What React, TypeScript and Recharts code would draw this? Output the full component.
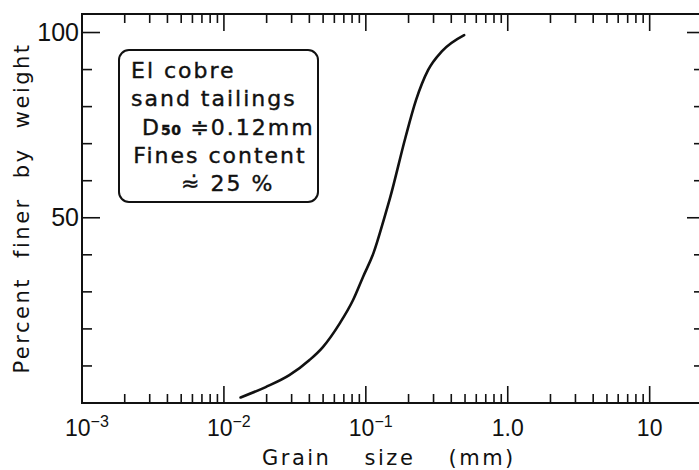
import { LineChart, Line, XAxis, YAxis, ReferenceArea } from "recharts";

// grain size distribution
const grainSize = [0.0131, 0.0197, 0.0289, 0.0401, 0.0498, 0.0655, 0.0813, 0.0957, 0.113, 0.135, 0.149, 0.19, 0.226, 0.275, 0.343, 0.493];
const percentFiner = [1.5, 4.3, 7.5, 11.6, 15.1, 21.5, 27.8, 34.1, 40.4, 50, 55.7, 71.6, 81.8, 89.9, 94.9, 99.3];

const majorX = [0.001, 0.01, 0.1, 1, 10];
const majorXBase = ["10", "10", "10", "1.0", "10"];
const majorXSup = ["\u22123", "\u22122", "\u22121", "", ""];
const minorMult = [2, 3, 4, 5, 6, 7, 8, 9];
const xTicks = [...majorX, ...majorX.slice(0, 4).flatMap((d) => minorMult.map((m) => +(m * d).toPrecision(2)))];

const yTicks = [10, 20, 30, 40, 50, 60, 70, 80, 90, 100];
const yLabelled = [50, 100];

const X_DOMAIN = [0.001, 23];
const Y_DOMAIN = [0, 105];

const data = grainSize.map((g, i) => ({ g, p: percentFiner[i] }));

const W = 710;
const H = 470;
const MARGIN = { top: 14, right: 9, left: 0, bottom: 0 };
const Y_W = 82;
const X_H = 67;
const PLOT_TOP = MARGIN.top;
const PLOT_BOTTOM = H - X_H;
const PLOT_LEFT = Y_W;
const PLOT_RIGHT = W - MARGIN.right;

const INK = "#111";
const NUM_FONT = "'Liberation Sans', Arial, sans-serif";
const TXT_FONT = "'DejaVu Sans', sans-serif";

function XTick(props: any) {
  const { x, payload } = props;
  const idx = majorX.indexOf(payload.value);
  const major = idx >= 0;
  const len = major ? 17 : 9;
  return (
    <g>
      <line x1={x} x2={x} y1={PLOT_BOTTOM} y2={PLOT_BOTTOM - len} stroke={INK} strokeWidth={1.6} />
      <line x1={x} x2={x} y1={PLOT_TOP} y2={PLOT_TOP + len} stroke={INK} strokeWidth={1.6} />
      {major &&
        (majorXSup[idx] ? (
          <text x={x - 17} y={436} fontSize={23} fontFamily={NUM_FONT} fill={INK}>
            <tspan>{majorXBase[idx]}</tspan>
            <tspan dy={-9} fontSize={16}>
              {majorXSup[idx]}
            </tspan>
          </text>
        ) : (
          <text x={x} y={436} textAnchor="middle" fontSize={23} fontFamily={NUM_FONT} fill={INK}>
            {majorXBase[idx]}
          </text>
        ))}
    </g>
  );
}

function YTick(props: any) {
  const { y, payload } = props;
  const major = yLabelled.includes(payload.value);
  return (
    <g>
      <line x1={PLOT_LEFT} x2={PLOT_LEFT + (major ? 18 : 10)} y1={y} y2={y} stroke={INK} strokeWidth={1.6} />
      <line x1={PLOT_RIGHT - (major ? 14 : 7)} x2={PLOT_RIGHT} y1={y} y2={y} stroke={INK} strokeWidth={1.6} />
      {major && (
        <text x={PLOT_LEFT - 3} y={y + 8} textAnchor="end" fontSize={25} fontFamily={NUM_FONT} fill={INK}>
          {payload.value}
        </text>
      )}
    </g>
  );
}

export default function App() {
  return (
    <div style={{ position: "absolute", left: 0, top: 0, width: 699, height: 470, overflow: "hidden", background: "#fff" }}>
      <LineChart width={W} height={H} data={data} margin={MARGIN}>
        <XAxis
          dataKey="g"
          type="number"
          scale="log"
          domain={X_DOMAIN}
          allowDataOverflow
          ticks={xTicks}
          interval={0}
          height={X_H}
          axisLine={false}
          tickLine={false}
          tick={<XTick />}
        />
        <YAxis
          type="number"
          domain={Y_DOMAIN}
          allowDataOverflow
          ticks={yTicks}
          interval={0}
          width={Y_W}
          axisLine={false}
          tickLine={false}
          tick={<YTick />}
        />
        <ReferenceArea x1={X_DOMAIN[0]} x2={X_DOMAIN[1]} y1={Y_DOMAIN[0]} y2={Y_DOMAIN[1]} fill="none" stroke={INK} strokeWidth={2} />
        <Line dataKey="p" type="monotone" stroke={INK} strokeWidth={2.6} strokeLinecap="round" dot={false} isAnimationActive={false} />
      </LineChart>
      <svg width={699} height={470} style={{ position: "absolute", left: 0, top: 0, pointerEvents: "none" }}>
        <rect x={119} y={50} width={199} height={152} rx={10} fill="#fff" stroke={INK} strokeWidth={2} />
        <g fontFamily={TXT_FONT} fontSize={22} fill={INK} stroke={INK} strokeWidth={0.4} letterSpacing={2}>
          <text x={131} y={78}>El cobre</text>
          <text x={131} y={106}>sand tailings</text>
          <text x={142} y={135}>
            <tspan>D</tspan>
            <tspan fontSize={14} fontWeight="bold" letterSpacing={0.5}>50</tspan>
            <tspan dx={9}>≑0.12mm</tspan>
          </text>
          <text x={220} y={163} textAnchor="middle">Fines content</text>
          <text x={181} y={191}>{"\u2248\u0307 25 %"}</text>
        </g>
        <text
          x={29}
          y={208}
          transform="rotate(-90 29 208)"
          textAnchor="middle"
          fontFamily={TXT_FONT}
          fontSize={21}
          letterSpacing={2.5}
          wordSpacing={10}
          fill={INK}
        >
          Percent finer by weight
        </text>
        <text x={262} y={465} fontFamily={TXT_FONT} fontSize={21} letterSpacing={2.5} wordSpacing={24} fill={INK}>
          Grain size (mm)
        </text>
      </svg>
    </div>
  );
}
